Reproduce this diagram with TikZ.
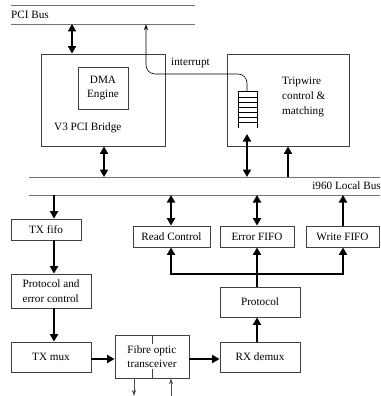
\documentclass[tikz,border=0pt]{standalone}
\usepackage{fontspec}
\setmainfont{Liberation Serif}
\usetikzlibrary{arrows.meta}
\begin{document}
\begin{tikzpicture}[x=1pt,y=-1pt,
  font=\fontsize{11.2}{14.5}\selectfont,
  box/.style={draw=black!75, line width=0.8pt, inner sep=0pt, align=center},
  busline/.style={draw=black!55, line width=0.9pt},
  fat/.style={line width=2.6pt, -{Triangle[length=7.5pt,width=8pt]}},
  fatboth/.style={line width=2.6pt, {Triangle[length=7.5pt,width=8pt]}-{Triangle[length=7.5pt,width=8pt]}},
  fatline/.style={line width=2.6pt},
  thin/.style={draw=black, line width=0.6pt, -{Stealth[length=6pt,width=4pt,open]}},
  thinfill/.style={draw=black!70, line width=0.7pt, -{Stealth[length=6pt,width=4pt]}}
]
\useasboundingbox (0,0) rectangle (380,396);

% PCI bus
\draw[busline] (11,5.7) -- (195,5.7);
\draw[busline] (11,24) -- (195,24);
\node[anchor=west, inner sep=0pt] (pcilabel) at (11,15) {PCI Bus};
\coordinate (pciA) at (72,24);
\coordinate (pciB) at (146,24);

% i960 local bus
\draw[busline] (29,177) -- (380,177);
\draw[busline] (29,195) -- (380,195);
\node[anchor=east, inner sep=0pt] (locallabel) at (381,186) {i960 Local Bus};

% boxes
\node[box, minimum width=124pt, minimum height=92pt] (v3) at (103,100) {};
\node[box, minimum width=50pt, minimum height=42pt] (dma) at (103,88) {DMA\\Engine};
\node[anchor=west, inner sep=0pt] (v3label) at (54,128) {V3 PCI Bridge};
\node[box, minimum width=122pt, minimum height=92pt] (trip) at (288,100) {};
\node[anchor=west, inner sep=0pt, align=left] (triplabel) at (282,97) {Tripwire\\control \&\\matching};

% fifo stack in tripwire
\draw[black, line width=0.7pt] (238,91) -- (257,91);
\foreach \yy in {97,102,107,112,117,122} {\draw[black, line width=0.7pt] (238,\yy) -- (257,\yy);}
\draw[black, line width=0.7pt] (238,91) -- (238,128);
\draw[black, line width=0.7pt] (257,91) -- (257,128);
\coordinate (fifotop) at (247,91);
\coordinate (fifobot) at (247,134);

% interrupt
\draw[thin, rounded corners=9pt] (fifotop) -- (247,74) -- (146,74) -- (pciB);
\node[anchor=west, inner sep=0pt] (intlabel) at (171,63) {interrupt};

\node[box, minimum width=70pt, minimum height=21pt] (txfifo) at (46,229.5) {TX fifo};
\node[box, minimum width=77pt, minimum height=21pt] (readc) at (171.5,236.5) {Read Control};
\node[box, minimum width=74pt, minimum height=21pt] (errf) at (257,236.5) {Error FIFO};
\node[box, minimum width=73pt, minimum height=21pt] (writef) at (342.5,236.5) {Write FIFO};
\node[box, minimum width=80pt, minimum height=34pt, align=left] (pec) at (51,291) {Protocol and\\error control};
\node[box, minimum width=80pt, minimum height=30pt] (proto) at (260,302) {Protocol};
\node[box, minimum width=80pt, minimum height=30pt] (txmux) at (51,357) {TX mux};
\node[box, minimum width=74pt, minimum height=43pt] (fibre) at (152,356.5) {};
\draw[black!75, line width=0.8pt] (fibre.north) -- (fibre.south);
\node[fill=white, inner sep=1pt, align=left] (fibrelabel) at (fibre.center) {Fibre optic\\transceiver};
\node[box, minimum width=80pt, minimum height=30pt] (rxdemux) at (260,357) {RX demux};

% bus coordinates
\coordinate (lbV3) at (104,177);
\coordinate (lbFifo) at (247,177);
\coordinate (lbTrip) at (288,177);
\coordinate (lbTx) at (54,195);
\coordinate (lbRead) at (171,195);
\coordinate (lbErr) at (257,195);
\coordinate (lbWrite) at (343,195);

% arrows top
\draw[fatboth] (pciA) -- (pciA |- v3.north);
\draw[fatboth] (lbV3 |- v3.south) -- (lbV3);
\draw[fatboth] (fifobot) -- (lbFifo);
\draw[fat] (lbTrip) -- (lbTrip |- trip.south);

% arrows below bus
\draw[fat] (lbTx) -- (lbTx |- txfifo.north);
\draw[fatboth] (lbRead) -- (lbRead |- readc.north);
\draw[fatboth] (lbErr) -- (lbErr |- errf.north);
\draw[fat] (lbWrite |- writef.north) -- (lbWrite);

\draw[fat] (lbTx |- txfifo.south) -- (lbTx |- pec.north);
\draw[fat] (lbTx |- pec.south) -- (lbTx |- txmux.north);

% bar
\coordinate (barL) at (171,274);
\coordinate (barM) at (257,274);
\coordinate (barR) at (343,274);
\draw[fatline] ([xshift=-1.3pt]barL) -- ([xshift=1.3pt]barR);
\draw[fat] ([yshift=1.3pt]barL) -- (barL |- readc.south);
\draw[fat] (barM) -- (barM |- errf.south);
\draw[fat] ([yshift=1.3pt]barR) -- (barR |- writef.south);
\draw[fatline] (barM |- proto.north) -- ([yshift=1.3pt]barM);
\draw[fat] (barM |- rxdemux.north) -- (barM |- proto.south);

% bottom row
\draw[fat] (txmux.east |- 0,359) -- (fibre.west |- 0,359);
\draw[fat] (fibre.east |- 0,359) -- (rxdemux.west |- 0,359);
\coordinate (fibOut) at (134,396);
\coordinate (fibIn) at (171,396);
\draw[thinfill] (fibOut |- fibre.south) -- (fibOut);
\draw[thinfill] (fibIn) -- (fibIn |- fibre.south);
\end{tikzpicture}
\end{document}
